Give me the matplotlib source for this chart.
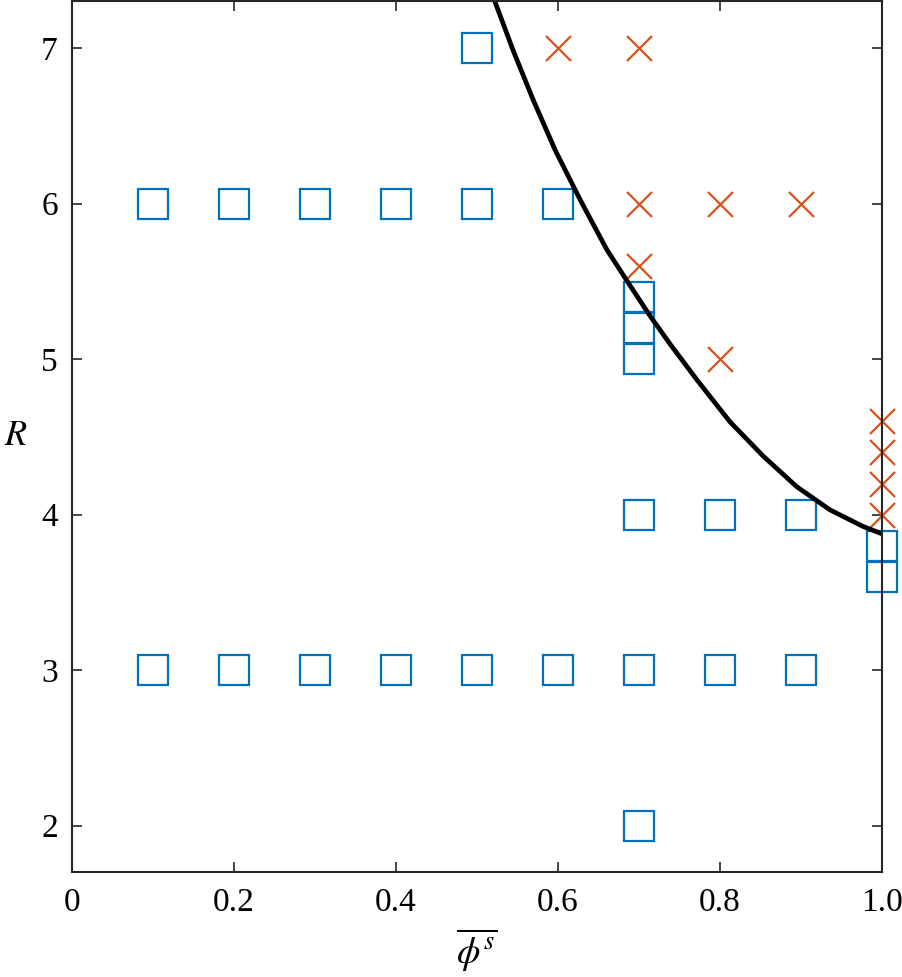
import matplotlib
matplotlib.use("Agg")
import matplotlib.pyplot as plt

plt.rcParams.update({
    "font.family": "serif",
    "font.serif": ["Liberation Serif", "DejaVu Serif"],
    "mathtext.fontset": "stix",
    "xtick.direction": "in", "ytick.direction": "in",
    "xtick.top": True, "ytick.right": True,
    "xtick.major.size": 7, "ytick.major.size": 7,
    "xtick.major.width": 1.2, "ytick.major.width": 1.2,
    "xtick.color": "#262626", "ytick.color": "#262626",
    "xtick.labelcolor": "black", "ytick.labelcolor": "black",
    "axes.edgecolor": "#262626", "axes.linewidth": 1.5,
})

# stable cases (squares)
sq_phi = [0.1, 0.2, 0.3, 0.4, 0.5, 0.6, 0.7, 0.8, 0.9,
          0.1, 0.2, 0.3, 0.4, 0.5, 0.6,
          0.5, 0.7, 0.8, 0.9, 0.7,
          0.7, 0.7, 0.7, 1.0, 1.0]
sq_R = [3, 3, 3, 3, 3, 3, 3, 3, 3,
        6, 6, 6, 6, 6, 6,
        7, 4, 4, 4, 2,
        5.0, 5.2, 5.4, 3.6, 3.8]

# unstable cases (crosses)
x_phi = [0.6, 0.7, 0.7, 0.8, 0.9, 0.7, 0.8, 1.0, 1.0, 1.0, 1.0]
x_R = [7, 7, 6, 6, 6, 5.6, 5.0, 4.0, 4.2, 4.4, 4.6]

# boundary curve
curve_phi = [0.521, 0.545, 0.570, 0.597, 0.628, 0.661, 0.689, 0.714,
             0.739, 0.772, 0.813, 0.854, 0.895, 0.936, 0.977, 1.0]
curve_R = [7.32, 6.985, 6.664, 6.343, 6.022, 5.701, 5.476, 5.278,
           5.095, 4.866, 4.595, 4.375, 4.180, 4.031, 3.924, 3.877]

fig = plt.figure(figsize=(9.03, 9.77), dpi=100)
ax = fig.add_axes([0.0794, 0.1072, 0.8970, 0.8913])

ax.plot(sq_phi, sq_R, ls="none", marker="s", ms=22, mfc="none",
        mec="#0072BD", mew=1.6, clip_on=False)
ax.plot(x_phi, x_R, ls="none", marker="x", ms=18, mec="#D95319",
        mew=1.6, clip_on=False)
ax.plot(curve_phi, curve_R, color="black", lw=3.4,
        solid_joinstyle="round", solid_capstyle="butt")

ax.set_xlim(0, 1.0)
ax.set_ylim(1.7, 7.3)
ax.set_xticks([0, 0.2, 0.4, 0.6, 0.8, 1.0])
ax.set_xticklabels(["0", "0.2", "0.4", "0.6", "0.8", "1.0"])
ax.set_yticks([2, 3, 4, 5, 6, 7])
ax.tick_params(labelsize=24, pad=11)
ax.tick_params(axis="y", pad=10)

ax.set_xlabel(r"$\overline{\phi^s}$", fontsize=27, labelpad=6)
ax.set_ylabel(r"$R$", fontsize=26, rotation=0, labelpad=18, va="center")

fig.savefig("out.png", dpi=100)
